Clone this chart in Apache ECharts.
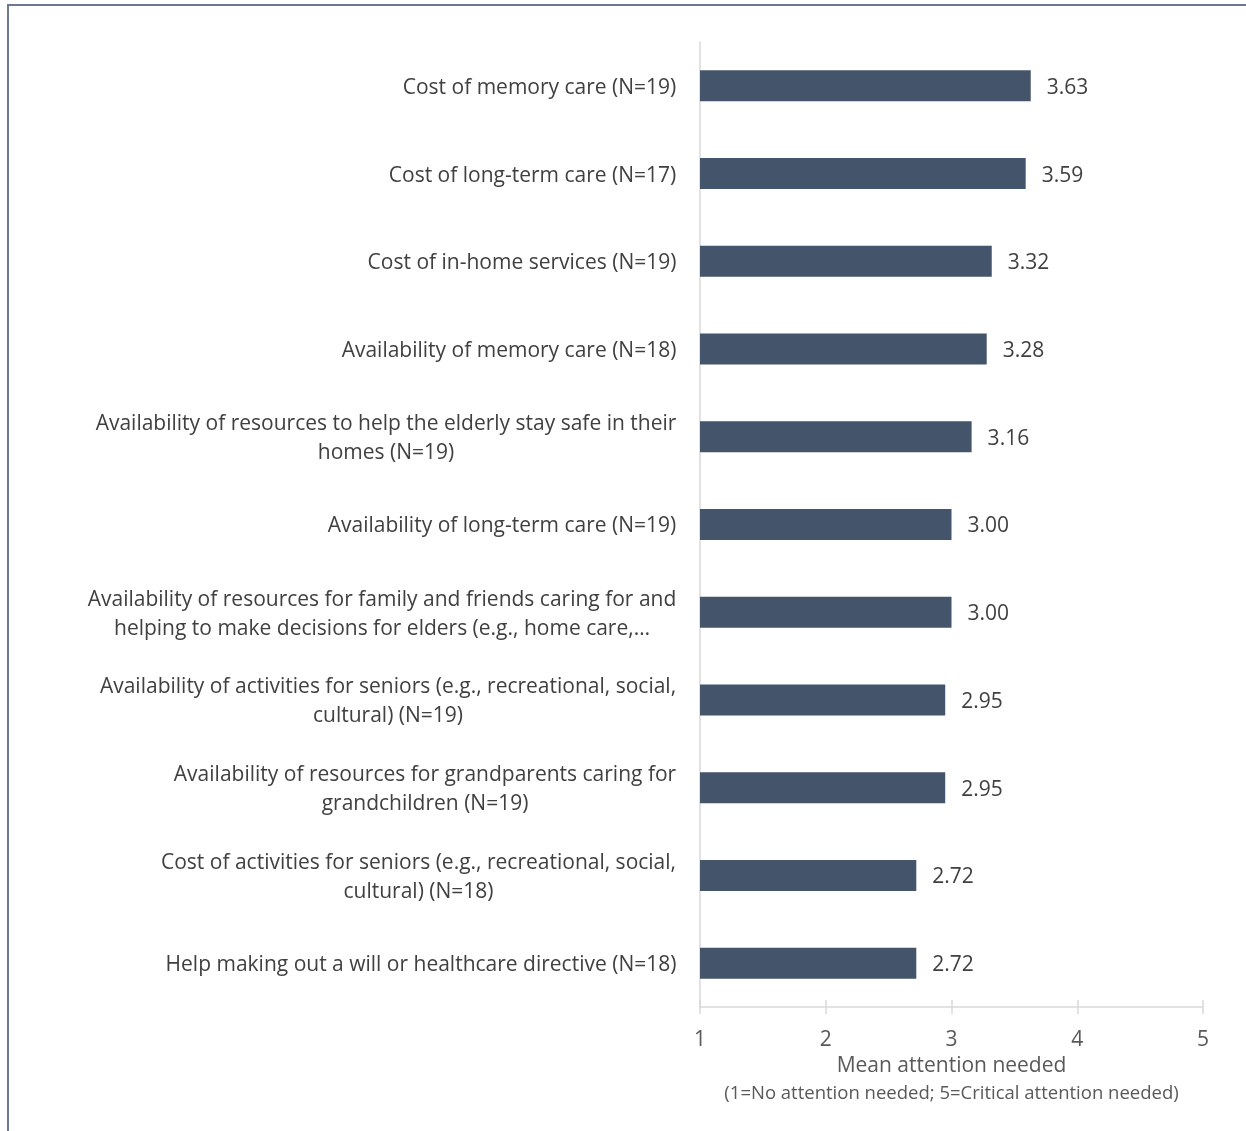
<!DOCTYPE html>
<html>
<head>
<meta charset="utf-8">
<script src="https://cdn.jsdelivr.net/npm/echarts@6/dist/echarts.min.js"></script>
<style>
html,body{margin:0;padding:0;background:#fff;}
#chart{width:1246px;height:1131px;}
</style>
</head>
<body>
<div id="chart"></div>
<script>
const categories = [
  "Cost of memory care (N=19)",
  "Cost of long-term care (N=17)",
  "Cost of in-home services (N=19)",
  "Availability of memory care (N=18)",
  "Availability of resources to help the elderly stay safe in their\nhomes (N=19)",
  "Availability of long-term care (N=19)",
  "Availability of resources for family and friends caring for and\nhelping to make decisions for elders (e.g., home care,…",
  "Availability of activities for seniors (e.g., recreational, social,\ncultural) (N=19)",
  "Availability of resources for grandparents caring for\ngrandchildren (N=19)",
  "Cost of activities for seniors (e.g., recreational, social,\ncultural) (N=18)",
  "Help making out a will or healthcare directive (N=18)"
];
const meanValues = [3.63, 3.59, 3.32, 3.28, 3.16, 3.00, 3.00, 2.95, 2.95, 2.72, 2.72];
const xTicks = [1, 2, 3, 4, 5];
const axisTitle = "Mean attention needed";
const axisSubtitle = "(1=No attention needed; 5=Critical attention needed)";

const FONT = "'Open Sans', 'Noto Sans', sans-serif";
const LABEL_SIZE = 21;

// measure each label block width so that multi-line labels are centred line-by-line
const ctx = document.createElement('canvas').getContext('2d');
ctx.font = LABEL_SIZE + "px " + FONT;
const rich = {};
categories.forEach((c, i) => {
  const w = Math.max(...c.split('\n').map(s => ctx.measureText(s).width));
  rich['w' + i] = {width: Math.ceil(w) + 1, align: 'center', fontFamily: FONT, fontSize: LABEL_SIZE, color: '#404040', lineHeight: 29};
});

const chart = echarts.init(document.getElementById('chart'), null, {renderer: 'canvas'});
chart.setOption({
  animation: false,
  backgroundColor: '#ffffff',
  graphic: [{
    type: 'rect', silent: true, z: 100,
    shape: {x: 8, y: 5, width: 1260, height: 1150},
    style: {fill: 'none', stroke: '#6b7a90', lineWidth: 2}
  }],
  grid: {left: 700, right: 43, top: 42, bottom: 124},
  xAxis: [{
    type: 'value', min: xTicks[0], max: xTicks[xTicks.length - 1], interval: 1,
    position: 'bottom',
    axisLine: {show: true, lineStyle: {color: '#d9d9d9', width: 1.5}},
    axisTick: {show: true, length: 7, lineStyle: {color: '#d9d9d9', width: 1.5}},
    splitLine: {show: false},
    axisLabel: {color: '#595959', fontFamily: FONT, fontSize: 21, margin: 23},
    name: '{a|' + axisTitle + '}\n{b|' + axisSubtitle + '}',
    nameLocation: 'middle', nameGap: 43,
    nameTextStyle: {
      rich: {
        a: {fontFamily: FONT, fontSize: 21, color: '#595959', lineHeight: 26},
        b: {fontFamily: FONT, fontSize: 18.5, color: '#595959', lineHeight: 28}
      }
    }
  }, {
    type: 'value', min: xTicks[0], max: xTicks[xTicks.length - 1], interval: 1,
    position: 'bottom',
    axisLine: {show: false},
    axisTick: {show: true, inside: true, length: 7, lineStyle: {color: '#d9d9d9', width: 1.5}},
    splitLine: {show: false},
    axisLabel: {show: false}
  }],
  yAxis: {
    type: 'category', data: categories, inverse: true,
    axisLine: {show: true, lineStyle: {color: '#d9d9d9', width: 1.5}},
    axisTick: {show: false},
    axisLabel: {
      color: '#404040', fontFamily: FONT, fontSize: LABEL_SIZE, margin: 23,
      lineHeight: 29, align: 'right', padding: [4, 0, 0, 0],
      formatter: (v, i) => v.split('\n').map(s => '{w' + i + '|' + s + '}').join('\n'),
      rich: rich
    }
  },
  series: [{
    type: 'bar', data: meanValues, barWidth: 31,
    itemStyle: {color: '#44546a'},
    label: {
      show: true, position: 'right', distance: 16, offset: [0, 2],
      formatter: p => p.value.toFixed(2),
      color: '#404040', fontFamily: FONT, fontSize: 21
    }
  }]
});
</script>
</body>
</html>
